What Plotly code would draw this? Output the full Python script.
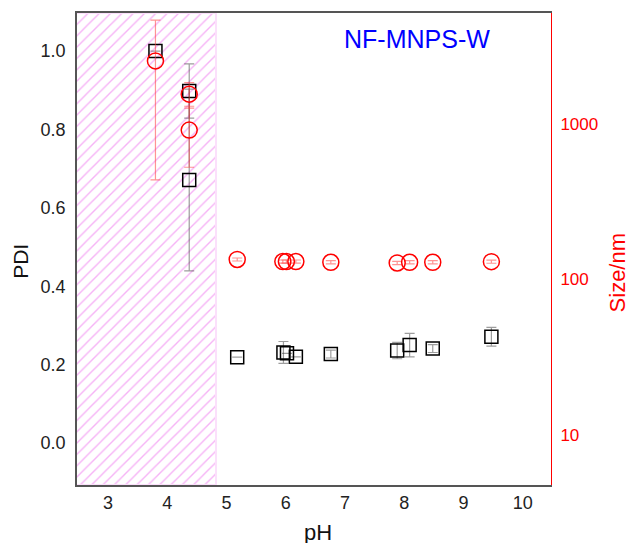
import plotly.graph_objects as go

# pH of each measurement
ph_pdi = [3.8, 4.37, 4.37, 5.18, 5.96, 6.02, 6.17, 6.76, 7.88, 8.09, 8.48, 9.47]
pdi = [1.0, 0.898, 0.671, 0.219, 0.231, 0.229, 0.220, 0.227, 0.236, 0.250, 0.241, 0.271]
pdi_err = [0.0, 0.069, 0.232, 0.0, 0.028, 0.0, 0.0, 0.01, 0.021, 0.03, 0.01, 0.024]

ph_size = [3.8, 4.37, 4.37, 5.18, 5.95, 6.01, 6.17, 6.76, 7.88, 8.09, 8.48, 9.47]
size_nm = [2535, 1549, 910, 134, 130, 130, 130, 128.6, 127.3, 128.6, 128.6, 129.7]
size_err = [2100, 290, 385, 3, 3, 3, 3, 3, 3, 3, 3, 3]

# Unstable (aggregating) pH window, shaded with hatching
acid_lo, acid_hi = 2.4, 4.82

x_range = [2.476, 10.476]
pdi_range = [-0.107, 1.097]
size_log_range = [0.677, 3.712]

pdi_ticks = [0.0, 0.2, 0.4, 0.6, 0.8, 1.0]
size_ticks = [10, 100, 1000]
ph_ticks = [3, 4, 5, 6, 7, 8, 9, 10]

FONT = "Liberation Sans, Arial, Helvetica, sans-serif"

fig = go.Figure()

fig.add_trace(go.Bar(
    x=[(acid_lo + acid_hi) / 2], y=[pdi_range[1] - pdi_range[0]], base=[pdi_range[0]],
    width=[acid_hi - acid_lo],
    marker=dict(color="rgba(255,255,255,0)",
                line=dict(color="#fbe0fb", width=2),
                pattern=dict(shape="/", fgcolor="#ee66ee", bgcolor="rgba(255,255,255,0)",
                             size=8, solidity=0.17)),
    hoverinfo="skip", showlegend=False, yaxis="y",
))

fig.add_trace(go.Scatter(
    x=ph_pdi, y=pdi, mode="markers", name="PDI", yaxis="y",
    marker=dict(symbol="square-open", size=13, color="black", line=dict(width=1.5)),
    error_y=dict(type="data", array=pdi_err, visible=True,
                 color="rgba(60,60,60,0.5)", thickness=1.2, width=5),
    showlegend=False,
))

fig.add_trace(go.Scatter(
    x=ph_size, y=size_nm, mode="markers", name="Size", yaxis="y2",
    marker=dict(symbol="circle-open", size=16, color="red", line=dict(width=1.5)),
    error_y=dict(type="data", array=size_err, visible=True,
                 color="rgba(255,60,60,0.55)", thickness=1.2, width=5),
    showlegend=False,
))

fig.update_layout(
    width=627, height=543,
    margin=dict(l=77, r=76, t=13, b=58),
    paper_bgcolor="white", plot_bgcolor="white",
    font=dict(family=FONT, size=18, color="#222"),
    bargap=0,
    xaxis=dict(range=x_range, tickvals=ph_ticks, showgrid=False, zeroline=False,
               showline=True, linecolor="#555", linewidth=1.5, mirror=True,
               ticks="", ticklabelstandoff=1,
               tickfont=dict(size=18, color="#222")),
    yaxis=dict(range=pdi_range, tickvals=pdi_ticks, tickformat=".1f",
               showgrid=False, zeroline=False, showline=True, linecolor="#555",
               linewidth=1.5, ticks="", ticklabelstandoff=6,
               tickfont=dict(size=18, color="#222")),
    yaxis2=dict(type="log", range=size_log_range, tickvals=size_ticks,
                ticktext=[str(t) for t in size_ticks], overlaying="y", side="right",
                showgrid=False, zeroline=False, showline=True, linecolor="red",
                linewidth=1, ticks="", ticklabelstandoff=5,
                tickfont=dict(size=17, color="red")),
    annotations=[
        dict(text="NF-MNPS-W", xref="paper", yref="paper", x=0.717, y=0.944,
             showarrow=False, font=dict(size=25, color="#0000ff"),
             xanchor="center", yanchor="middle"),
        dict(text="PDI", xref="paper", yref="paper", x=-0.119, y=0.474,
             showarrow=False, textangle=-90, font=dict(size=21, color="#111"),
             xanchor="center", yanchor="middle"),
        dict(text="Size/nm", xref="paper", yref="paper", x=1.141, y=0.450,
             showarrow=False, textangle=-90, font=dict(size=22, color="red"),
             xanchor="center", yanchor="middle"),
        dict(text="pH", xref="paper", yref="paper", x=0.508, y=-0.100,
             showarrow=False, font=dict(size=22, color="#111"),
             xanchor="center", yanchor="middle"),
    ],
)

fig.write_html("out.html")
